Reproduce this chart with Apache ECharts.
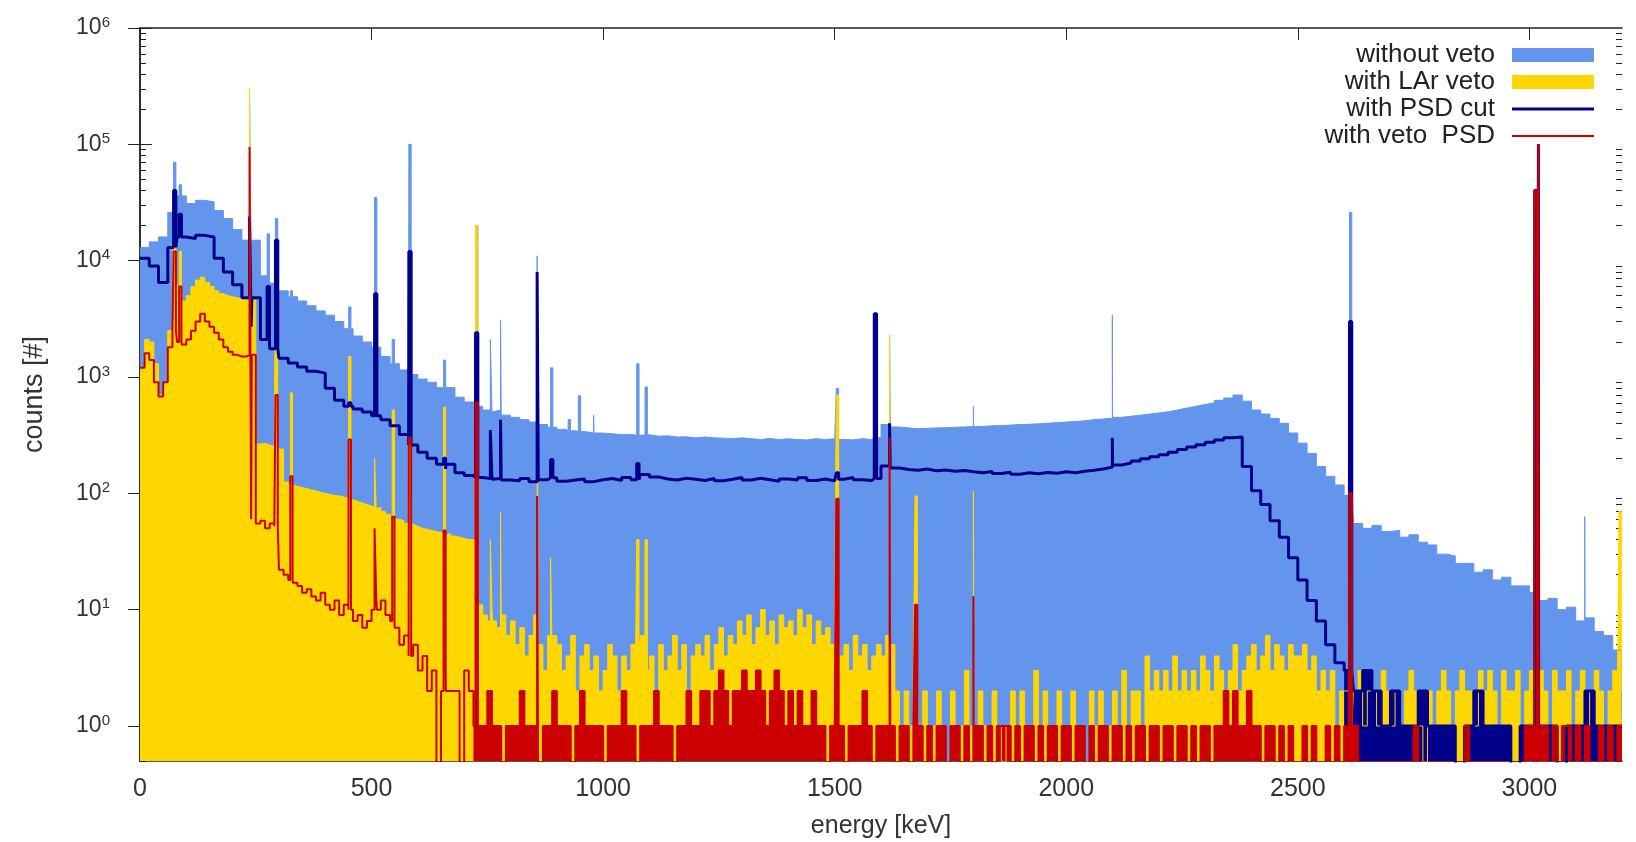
<!DOCTYPE html>
<html>
<head>
<meta charset="utf-8">
<title>LAr veto / PSD spectrum</title>
<script src="https://cdn.jsdelivr.net/npm/echarts@6.0.0/dist/echarts.min.js"></script>
<style>
  html, body { margin: 0; padding: 0; background: #fff; }
  #chart { width: 1636px; height: 842px; }
</style>
</head>
<body>
<div id="chart"></div>
<script>
// bin widths of the hand-read spectra (keV)
const wideBin = 20;   // without veto, with PSD cut
const fineBin = 10;   // with LAr veto, with veto PSD

const xTicks = [0, 500, 1000, 1500, 2000, 2500, 3000];
const yTicks = [1, 10, 100, 1000, 10000, 100000, 1000000];

// without veto, 20 keV bins from 0 keV
const blueCounts = [
  13000, 14500, 16000, 26000, 36000, 31000, 33000, 32000, 27000, 23000,
  18500, 15000, 8600, 7400, 6400, 5500, 4900, 4500, 4100, 3700,
  3400, 3000, 2600, 2250, 2000, 1800, 1500, 1300, 1150, 1050,
  960, 900, 810, 720, 670, 610, 560, 520, 500, 470,
  450, 430, 410, 390, 370, 355, 345, 340, 330, 330,
  325, 320, 322, 315, 318, 310, 312, 305, 306, 300,
  305, 300, 298, 295, 300, 295, 290, 296, 290, 294,
  290, 288, 295, 290, 294, 290, 288, 295, 290, 300,
  390, 372, 365, 360, 362, 365, 366, 370, 372, 375,
  376, 380, 382, 386, 390, 392, 396, 400, 405, 410,
  415, 420, 430, 436, 442, 450, 460, 470, 480, 490,
  502, 520, 540, 560, 580, 600, 630, 660, 700, 620,
  520, 480, 440, 400, 330, 270, 220, 170, 140, 118,
  96, 55, 50, 53, 47, 48, 42, 44, 38, 36,
  30, 29, 25, 25, 21, 22, 18, 19, 16, 16,
  14, 12, 12.5, 10, 10.5, 8, 8.5, 6.5, 6, 4.5
];

// with PSD cut, 20 keV bins from 0 keV
const navyCounts = [
  10500, 9000, 6500, 13000, 16000, 15500, 16500, 16000, 10500, 8000,
  6200, 4800, 2700, 2100, 1750, 1450, 1320, 1220, 1120, 1080,
  800, 630, 560, 530, 500, 465, 430, 380, 320, 260,
  225, 200, 178, 162, 150, 142, 137, 134, 132, 130,
  128, 134, 126, 131, 136, 127, 130, 133, 126, 131,
  134, 129, 137, 131, 145, 138, 133, 130, 135, 132,
  129, 134, 128, 132, 137, 130, 135, 131, 127, 133,
  130, 136, 129, 133, 128, 132, 137, 131, 129, 134,
  172, 165, 160, 158, 162, 156, 159, 155, 157, 153,
  150, 154, 148, 152, 146, 150, 147, 151, 149, 153,
  150, 155, 158, 162, 168, 175, 182, 190, 198, 206,
  215, 225, 238, 250, 262, 275, 288, 300, 305, 170,
  105, 80, 58, 42, 28, 18, 12, 8, 5, 3.5,
  3, 2, 3, 2, 1, 2, 1, 1, 2, 1,
  1, 1, 0, 1, 2, 1, 1, 1, 0, 1,
  1, 1, 1, 0, 1, 1, 2, 1, 1, 1
];

// with LAr veto, 10 keV bins from 0 keV
const yellowCounts = [
  1200, 2100, 2000, 1300, 700, 900, 2500, 7000, 6000, 4500,
  5000, 6000, 6800, 7200, 6500, 6000, 5500, 5200, 5000, 4900,
  4800, 4700, 4600, 4600, 270, 265, 270, 260, 255, 250,
  240, 125, 118, 115, 112, 110, 107, 105, 102, 100,
  98, 96, 95, 93, 90, 88, 85, 83, 80, 78,
  76, 74, 70, 66, 63, 60, 58, 55, 54, 52,
  50, 49, 48, 47, 46, 45, 44, 43, 42, 41,
  40, 40, 39, 11, 9, 8, 10, 7, 9, 6,
  8, 5, 7, 4, 6, 9, 5, 3, 6, 4,
  5, 3, 4, 6, 2, 4, 5, 3, 4, 2,
  3, 5, 4, 2, 4, 3, 5, 4, 6, 3,
  4, 2, 5, 3, 4, 6, 3, 5, 2, 4,
  5, 4, 6, 3, 5, 7, 4, 6, 5, 8,
  6, 9, 5, 7, 10, 6, 8, 5, 9, 7,
  8, 6, 10, 7, 9, 5, 8, 6, 7, 5,
  6, 4, 5, 3, 6, 4, 5, 3, 4, 5,
  4, 6, 5, 2, 1, 2, 1, 3, 1, 2,
  1, 1, 2, 1, 0, 2, 1, 1, 3, 1,
  1, 2, 1, 1, 2, 1, 0, 1, 2, 1,
  2, 1, 1, 3, 1, 2, 1, 1, 2, 1,
  1, 2, 1, 1, 0, 2, 1, 2, 1, 1,
  2, 1, 3, 1, 2, 2, 1, 4, 2, 3,
  2, 3, 2, 4, 2, 3, 2, 3, 2, 4,
  3, 2, 4, 3, 2, 3, 5, 2, 3, 4,
  5, 3, 4, 6, 3, 5, 4, 3, 5, 4,
  4, 5, 3, 4, 2, 3, 2, 3, 1, 2,
  2, 1, 2, 3, 1, 2, 2, 1, 3, 2,
  1, 2, 1, 2, 3, 2, 1, 0, 2, 1,
  2, 3, 2, 1, 2, 3, 2, 2, 1, 3,
  2, 3, 2, 1, 3, 2, 2, 3, 1, 2,
  3, 2, 3, 2, 1, 3, 2, 2, 3, 1,
  2, 3, 1, 2, 3, 2, 1, 2, 3, 2
];

// with veto + PSD, 10 keV bins from 0 keV
const redCounts = [
  1200, 1600, 1400, 900, 680, 900, 1800, 2500, 2000, 1900,
  2100, 2500, 3000, 3500, 3000, 2700, 2400, 2100, 1800, 1650,
  1550, 1500, 1500, 1550, 60, 55, 58, 50, 55, 52,
  22, 20, 18, 17, 16, 14, 15, 13, 12, 14,
  11, 10, 12, 9, 11, 10, 8, 9, 7, 8,
  10, 13, 12, 9, 8, 7, 5, 6, 4, 5,
  3, 4, 2, 3, 0, 2, 3, 2, 2, 0,
  3, 2, 1, 1, 1, 2, 1, 1, 0, 1,
  1, 1, 2, 1, 1, 1, 0, 1, 1, 2,
  1, 1, 1, 0, 1, 2, 1, 1, 1, 1,
  0, 1, 1, 1, 2, 1, 1, 0, 1, 1,
  1, 2, 1, 1, 1, 0, 1, 1, 2, 1,
  1, 2, 2, 1, 2, 3, 2, 1, 2, 2,
  3, 2, 2, 3, 2, 1, 2, 3, 2, 1,
  2, 1, 2, 1, 1, 2, 1, 1, 0, 1,
  1, 1, 0, 1, 1, 1, 2, 1, 0, 1,
  1, 1, 1, 0, 1, 1, 0, 1, 1, 0,
  1, 0, 1, 1, 0, 1, 1, 0, 1, 0,
  1, 1, 0, 1, 0, 1, 1, 1, 0, 1,
  0, 1, 1, 0, 1, 0, 1, 1, 0, 1,
  1, 0, 1, 1, 0, 1, 0, 1, 1, 0,
  1, 1, 0, 1, 0, 1, 1, 0, 1, 1,
  0, 1, 1, 0, 1, 1, 0, 1, 0, 1,
  1, 0, 1, 1, 2, 1, 2, 1, 1, 2,
  1, 1, 0, 1, 1, 0, 1, 0, 1, 0,
  0, 1, 0, 1, 0, 0, 1, 0, 1, 0,
  1, 0, 1, 0, 0, 0, 0, 0, 0, 0,
  0, 0, 0, 0, 0, 1, 0, 0, 0, 0,
  0, 0, 0, 0, 0, 0, 1, 0, 0, 0,
  0, 0, 0, 0, 0, 0, 0, 0, 0, 1,
  1, 0, 1, 1, 0, 1, 0, 1, 1, 0,
  1, 0, 1, 0, 0, 1, 0, 1, 0, 1
];

// gamma lines (keV) and their heights per spectrum, 0 = no line
const peakEnergy = [75, 87, 239, 277, 295, 327, 453, 509, 547, 583, 658, 727, 759, 781, 860, 889,
  927, 949, 982, 1075, 1093, 1506, 1588, 1621, 1676, 1802, 2102, 2614, 3014, 3022, 3122, 3196];
const bluePeaks = [70000, 45000, 300000, 17000, 23000, 5500, 4000, 35000, 2100, 100000, 1400, 20000, 2100, 3100, 11000, 1200,
  430, 690, 470, 1300, 820, 800, 3500, 2300, 0, 560, 3400, 26000, 40000, 100000, 63, 0];
const yellowPeaks = [30000, 12000, 300000, 0, 10000, 730, 1500, 200, 520, 300, 550, 20000, 40, 69, 2000, 28,
  0, 0, 0, 40, 40, 700, 0, 2300, 95, 105, 0, 80, 500, 500, 0, 70];
const navyPeaks = [40000, 25000, 24000, 6000, 15000, 0, 600, 5200, 300, 12000, 200, 2400, 350, 430, 8000, 195,
  0, 0, 0, 180, 0, 150, 3500, 400, 0, 0, 300, 3000, 40000, 100000, 0, 0];
const redPeaks = [12000, 6000, 95000, 0, 700, 140, 290, 50, 63, 300, 48, 600, 0, 0, 95, 0,
  0, 0, 0, 0, 0, 90, 0, 300, 11, 13, 0, 100, 40000, 100000, 0, 0];

// where the noisy low-count lines start to look like a filled band
const navyFloorFrom = 2600;
const redFloorFrom = 720;

const peakHalf = 2.5;   // half width of a line, keV
const zeroLevel = 0.1;  // empty bins fall below the axis and get clipped

// minor ticks 2..9 per decade like gnuplot
const minorTicks = [];
[0.1, 1, 10, 100, 1000, 10000, 100000].forEach(d => {
  for (let m = 2; m <= 9; m++) {
    const v = +(m * d).toPrecision(3);
    if (v >= 0.5 && v <= 1e6) minorTicks.push(v);
  }
});

// histogram -> [energy, counts] points for a step line
function histPoints(step, counts, peaks, from) {
  const pts = counts.map((c, i) => [i * step, c]);
  pts.push([counts.length * step, counts[counts.length - 1]]);
  peakEnergy.forEach((e, k) => {
    const base = counts[Math.floor(e / step)];
    if (peaks[k] > base) {
      pts.push([e - peakHalf, peaks[k]], [e + peakHalf, base]);
    }
  });
  pts.sort((a, b) => a[0] - b[0]);
  return pts
    .filter(p => p[0] >= from)
    .map(p => [p[0], p[1] > 0 ? p[1] : zeroLevel]);
}

const colors = {
  blue: '#6495ed',
  yellow: '#ffd700',
  navy: '#00008b',
  red: '#cc0000'
};

function filled(name, data, color) {
  return {
    name: name,
    type: 'line',
    step: 'end',
    data: data,
    symbol: 'none',
    itemStyle: { color: color },
    lineStyle: { color: color, width: 1 },
    areaStyle: { color: color, opacity: 1, origin: 'start' }
  };
}

function stroked(name, data, color, width) {
  return {
    name: name,
    type: 'line',
    step: 'end',
    data: data,
    symbol: 'none',
    itemStyle: { color: color },
    lineStyle: { color: color, width: width }
  };
}

const axisColor = '#222';
const textColor = '#333';

function yAxisBase(position, ticks, len) {
  return {
    type: 'log',
    logBase: 10,
    min: 0.5,
    max: 1e6,
    position: position,
    axisLine: { show: false },
    axisTick: { inside: true, length: len, customValues: ticks, lineStyle: { color: axisColor, width: 1 } },
    axisLabel: { show: false },
    splitLine: { show: false }
  };
}

const chart = echarts.init(document.getElementById('chart'));

const leftMajor = yAxisBase('left', yTicks, 12);
leftMajor.axisLine = { show: true, lineStyle: { color: axisColor, width: 1.5 } };
leftMajor.axisLabel = {
  show: true,
  customValues: yTicks,
  margin: 30,
  formatter: v => '{b|10}{e|' + Math.round(Math.log10(v)) + '}',
  rich: {
    b: { fontSize: 23, color: textColor },
    e: { fontSize: 15, color: textColor, padding: [0, 0, 11, 0] }
  }
};
leftMajor.name = 'counts [#]';
leftMajor.nameLocation = 'middle';
leftMajor.nameGap = 92;
leftMajor.nameTextStyle = { fontSize: 27, color: textColor };

const rightMajor = yAxisBase('right', yTicks, 12);
rightMajor.axisLine = { show: true, lineStyle: { color: axisColor, width: 1.5 } };

chart.setOption({
  animation: false,
  textStyle: { fontFamily: 'Liberation Sans, Arial, sans-serif' },
  grid: { left: 140, right: 14, top: 28, bottom: 81, outerBoundsMode: 'none' },
  legend: {
    data: [
      { name: 'without veto', icon: 'rect' },
      { name: 'with LAr veto', icon: 'rect' },
      { name: 'with PSD cut', icon: 'path://M0,0H82V3H0Z' },
      { name: 'with veto  PSD', icon: 'path://M0,0H82V2H0Z' }
    ],
    orient: 'vertical',
    right: 37,
    top: 37,
    align: 'right',
    itemWidth: 82,
    itemHeight: 14,
    itemGap: 1,
    selectedMode: false,
    textStyle: { fontSize: 26, lineHeight: 24, color: '#222', padding: [0, 12, 0, 0] }
  },
  xAxis: [
    {
      type: 'value',
      min: 0,
      max: 3200,
      position: 'bottom',
      axisLine: { lineStyle: { color: axisColor, width: 1.5 } },
      axisTick: { inside: true, length: 12, customValues: xTicks, lineStyle: { color: axisColor } },
      axisLabel: { customValues: xTicks, fontSize: 25, color: textColor, margin: 16, formatter: v => String(v) },
      splitLine: { show: false },
      name: 'energy [keV]',
      nameLocation: 'middle',
      nameGap: 53,
      nameTextStyle: { fontSize: 25, color: textColor }
    },
    {
      type: 'value',
      min: 0,
      max: 3200,
      position: 'top',
      axisLine: { lineStyle: { color: axisColor, width: 1.5 } },
      axisTick: { inside: true, length: 12, customValues: xTicks, lineStyle: { color: axisColor } },
      axisLabel: { show: false },
      splitLine: { show: false }
    }
  ],
  yAxis: [
    leftMajor,
    rightMajor,
    yAxisBase('left', minorTicks, 6),
    yAxisBase('right', minorTicks, 6)
  ],
  series: [
    filled('without veto', histPoints(wideBin, blueCounts, bluePeaks, 0), colors.blue),
    filled('with LAr veto', histPoints(fineBin, yellowCounts, yellowPeaks, 0), colors.yellow),
    filled('psd floor', histPoints(wideBin, navyCounts, navyPeaks, navyFloorFrom), colors.navy),
    stroked('with PSD cut', histPoints(wideBin, navyCounts, navyPeaks, 0), colors.navy, 3),
    filled('veto psd floor', histPoints(fineBin, redCounts, redPeaks, redFloorFrom), colors.red),
    stroked('with veto  PSD', histPoints(fineBin, redCounts, redPeaks, 0), colors.red, 2)
  ]
});

window.addEventListener('resize', () => chart.resize());
</script>
</body>
</html>
